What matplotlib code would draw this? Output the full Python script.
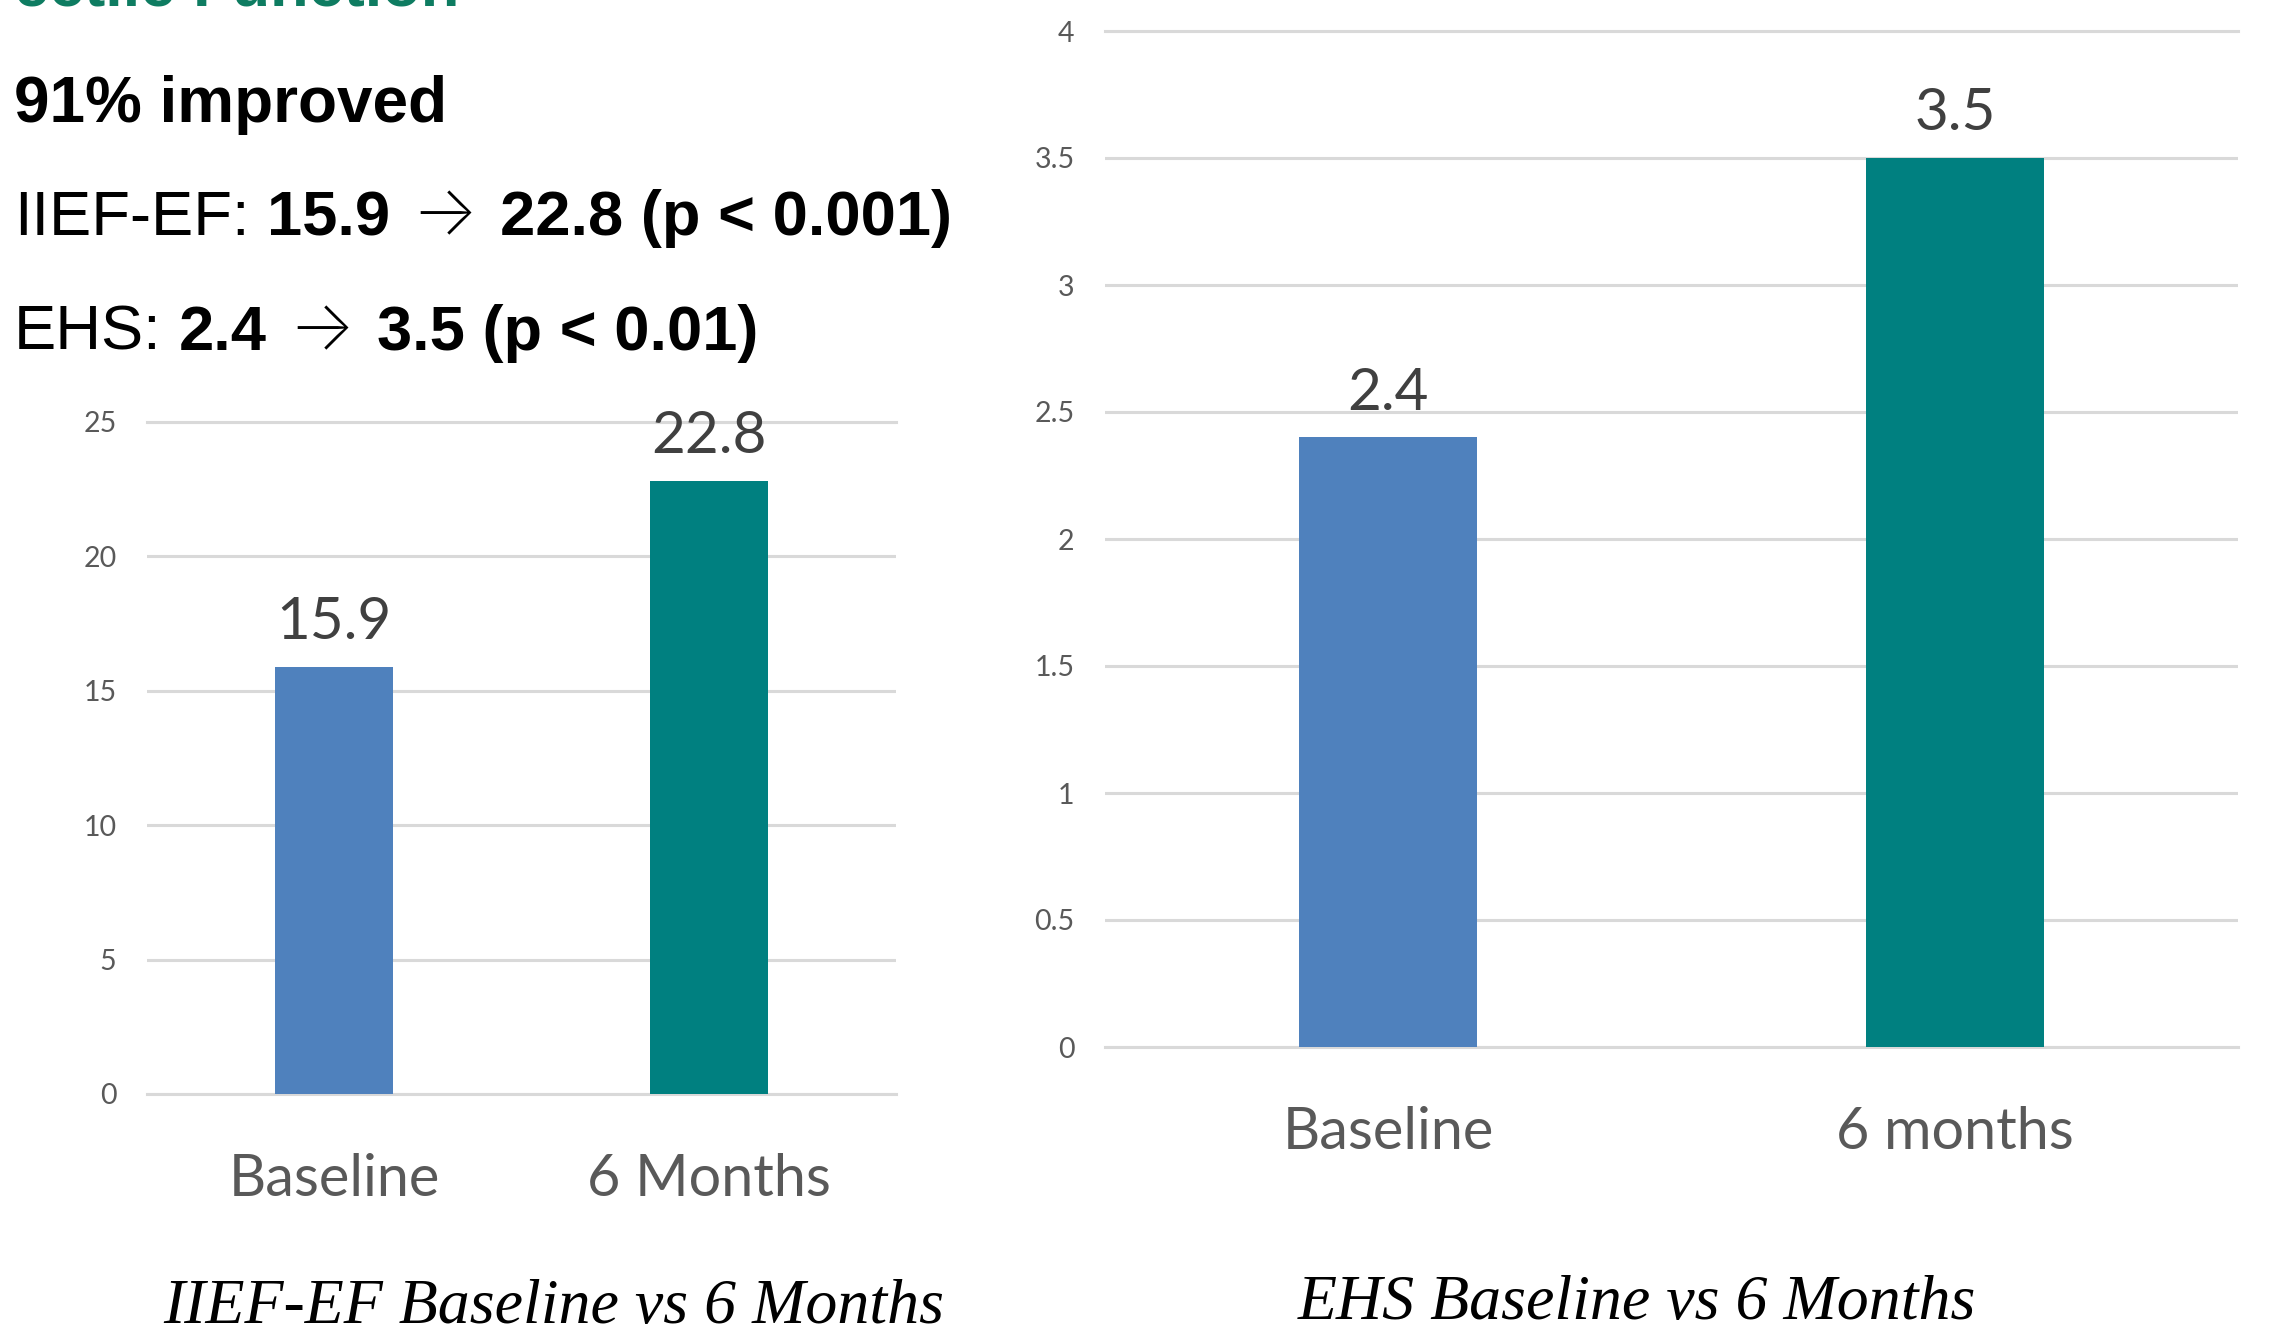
import matplotlib
matplotlib.use('Agg')
import matplotlib.pyplot as plt

# ---------------- data ----------------
iief_categories = ['Baseline', '6 Months']
iief_values = [15.9, 22.8]
iief_ticks = [0, 5, 10, 15, 20, 25]
iief_tick_labels = ['0', '5', '10', '15', '20', '25']

ehs_categories = ['Baseline', '6 months']
ehs_values = [2.4, 3.5]
ehs_ticks = [0, 0.5, 1, 1.5, 2, 2.5, 3, 3.5, 4]
ehs_tick_labels = ['0', '0.5', '1', '1.5', '2', '2.5', '3', '3.5', '4']

header_title = 'ectile Function'
header_line1 = '91% improved'
header_line2 = [('IIEF-EF:', 'normal'), ('15.9', 'bold'), ('\u2192', 'arrow'), ('22.8 (p < 0.001)', 'bold')]
header_line3 = [('EHS:', 'normal'), ('2.4', 'bold'), ('\u2192', 'arrow'), ('3.5 (p < 0.01)', 'bold')]

iief_caption = 'IIEF-EF Baseline vs 6 Months'
ehs_caption = 'EHS Baseline vs 6 Months'

bar_colors = ['#4F81BD', '#008080']

# ---------------- figure ----------------
W, H = 2269, 1333
DPI = 100
plt.rcParams['font.family'] = ['Lato', 'DejaVu Sans']
fig = plt.figure(figsize=(W / DPI, H / DPI), dpi=DPI)
fig.patch.set_facecolor('white')


def draw_bars(ax, cats, vals, ticks, ticklabels, ymax):
    x = list(range(len(cats)))
    ax.bar(x, vals, width=0.315, color=bar_colors, zorder=3)
    ax.set_xlim(-0.5, len(cats) - 0.5)
    ax.set_ylim(0, ymax)
    ax.set_yticks(ticks)
    ax.set_yticklabels(ticklabels)
    ax.yaxis.grid(True, color='#D9D9D9', linewidth=2.2)
    ax.set_axisbelow(True)
    for name, s in ax.spines.items():
        if name in ('top', 'bottom'):
            s.set_color('#D9D9D9')
            s.set_linewidth(2.2)
        else:
            s.set_visible(False)
    ax.tick_params(axis='y', length=0, pad=22, labelsize=20.5, labelcolor='#595959')
    ax.set_xticks(x)
    ax.set_xticklabels(cats)
    ax.tick_params(axis='x', length=0, pad=73.4, labelsize=41.5, labelcolor='#595959')
    for lbl in ax.get_xticklabels():
        lbl.set_va('baseline')
    for lbl in ax.get_yticklabels():
        lbl.set_va('center_baseline')
    for xi, v in zip(x, vals):
        ax.annotate(f'{v:g}', xy=(xi, v), xytext=(0, 20), textcoords='offset points',
                    ha='center', va='baseline', fontsize=42, color='#404040')


ax1 = fig.add_axes([147 / W, 1 - 1094 / H, 749 / W, (1094 - 422) / H])
draw_bars(ax1, iief_categories, iief_values, iief_ticks, iief_tick_labels, 25)

ax2 = fig.add_axes([1105 / W, 1 - 1047 / H, 1133 / W, (1047 - 31) / H])
draw_bars(ax2, ehs_categories, ehs_values, ehs_ticks, ehs_tick_labels, 4)

# ---------------- captions ----------------
cap_font = ['Liberation Serif', 'DejaVu Serif']
fig.text(554 / W, 1 - 1323 / H, iief_caption, ha='center', va='baseline',
         fontsize=46, style='italic', family=cap_font, color='black')
fig.text(1637 / W, 1 - 1319 / H, ehs_caption, ha='center', va='baseline',
         fontsize=46, style='italic', family=cap_font, color='black')

# ---------------- header text ----------------
sans = ['Liberation Sans', 'DejaVu Sans']
HS = 45.5
fig.text(14 / W, 1 - 5 / H, header_title, ha='left', va='baseline', fontsize=HS,
         fontweight='bold', family=sans, color='#0E7C61')
fig.text(14 / W, 1 - 122 / H, header_line1, ha='left', va='baseline', fontsize=HS + 0.5,
         fontweight='bold', family=sans, color='black')

renderer = fig.canvas.get_renderer()
space_px = 0.278 * HS * DPI / 72.0


def rich_line(segments, y_px):
    x_px = 14.0
    for txt, weight in segments:
        if weight == 'arrow':
            t = fig.text((x_px + 4) / W, 1 - y_px / H, txt, ha='left', va='baseline', fontsize=HS * 1.1,
                         fontweight='light', family=['Inter', 'DejaVu Sans'], color='black')
            bb = t.get_window_extent(renderer)
            x_px = bb.x1 + space_px + 4
            continue
        t = fig.text(x_px / W, 1 - y_px / H, txt, ha='left', va='baseline', fontsize=HS,
                     fontweight=weight, family=sans, color='black')
        bb = t.get_window_extent(renderer)
        x_px = bb.x1 + space_px


rich_line(header_line2, 235)
rich_line(header_line3, 350)

fig.savefig('out.png', dpi=DPI, facecolor='white')
